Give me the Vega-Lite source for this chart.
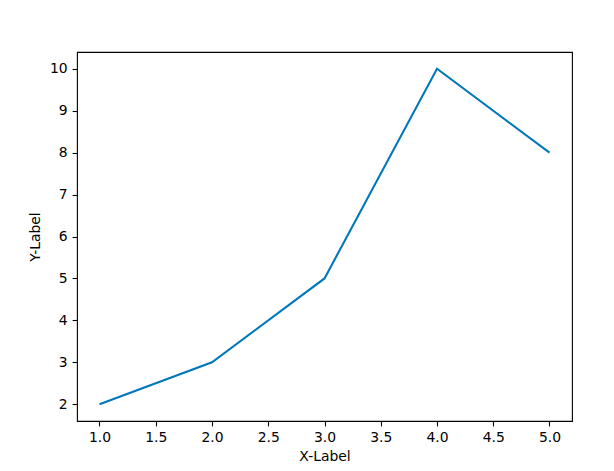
{
  "$schema": "https://vega.github.io/schema/vega-lite/v6.json",
  "width": 495,
  "height": 369,
  "autosize": {"type": "none"},
  "padding": {"left": 77, "top": 52, "right": 42, "bottom": 50},
  "background": "white",
  "config": {
    "view": {"stroke": "black", "strokeWidth": 1.1},
    "axis": {
      "labelFont": "DejaVu Sans", "labelFontSize": 13.9, "labelColor": "black",
      "titleFont": "DejaVu Sans", "titleFontSize": 13.9, "titleFontWeight": "normal", "titleColor": "black",
      "grid": false, "domain": false, "tickColor": "black", "tickSize": 4.9, "tickWidth": 1.1,
      "labelPadding": 4.9
    }
  },
  "data": {"values": [
    {"x": 1, "y": 2}, {"x": 2, "y": 3}, {"x": 3, "y": 5}, {"x": 4, "y": 10}, {"x": 5, "y": 8}
  ]},
  "mark": {"type": "line", "color": "#0077BB", "strokeWidth": 2.08},
  "encoding": {
    "x": {"field": "x", "type": "quantitative", "title": "X-Label",
      "scale": {"domain": [0.8, 5.2], "nice": false, "zero": false},
      "axis": {"values": [1, 1.5, 2, 2.5, 3, 3.5, 4, 4.5, 5], "format": ".1f", "titlePadding": 5}},
    "y": {"field": "y", "type": "quantitative", "title": "Y-Label",
      "scale": {"domain": [1.6, 10.4], "nice": false, "zero": false},
      "axis": {"values": [2, 3, 4, 5, 6, 7, 8, 9, 10], "format": "d", "titlePadding": 7}}
  }
}
